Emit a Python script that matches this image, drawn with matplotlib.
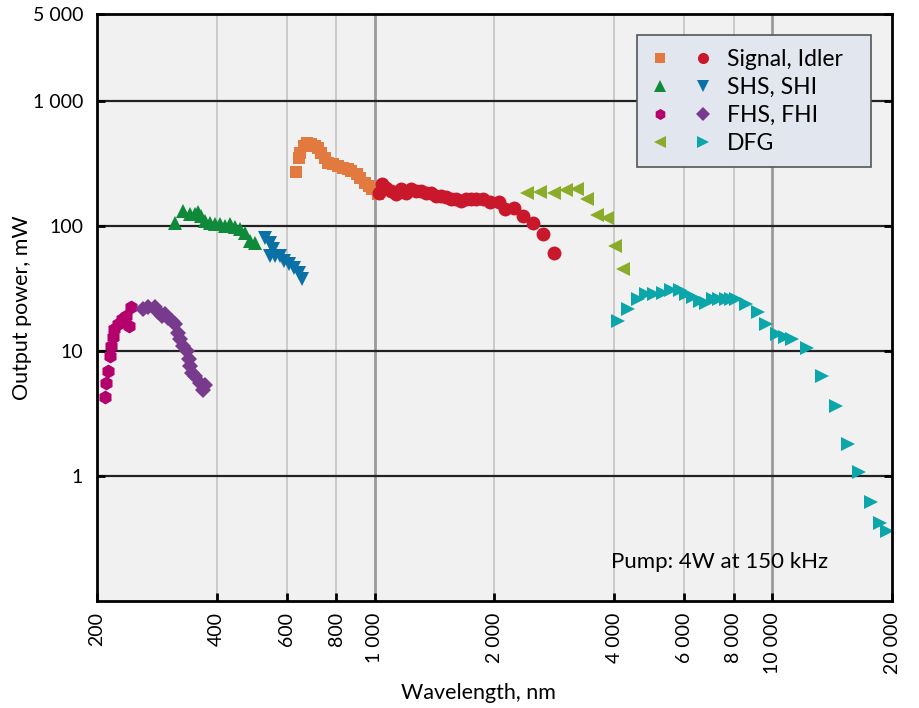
import matplotlib.pyplot as plt
from matplotlib.legend_handler import HandlerTuple
from matplotlib.ticker import FixedLocator, NullLocator, NullFormatter

plt.rcParams['font.family'] = ['Lato', 'DejaVu Sans']

# wavelength (nm), power (mW)
fhs_x = [209, 211, 213, 216, 217.5, 219.6, 221, 226, 230.6, 237, 241, 244]
fhs_y = [4.26, 5.6, 7.0, 9.2, 11, 12.9, 15, 16.4, 18, 19.2, 15.9, 22.4]

fhi_x = [261.6, 269, 280, 285, 291, 296.5, 302, 308, 314, 320, 323, 330,
         336.5, 340, 343.5, 346.7, 353, 363, 369, 373]
fhi_y = [21.7, 22.4, 22.4, 20.4, 19.2, 19.8, 18.6, 17.5, 16.4, 14.1, 12.6, 11,
         10.1, 8.6, 7.6, 6.7, 6.3, 5.6, 4.9, 5.4]

shs_x = [314, 329.5, 342.6, 353, 359.5, 366, 373, 385, 396.5, 408, 420, 432,
         445, 458, 471, 485, 499]
shs_y = [107, 133, 125, 125, 129, 121, 111, 107, 104, 104, 101, 104,
         98, 95, 89, 76, 74]

shi_x = [529, 544, 553, 544, 560, 576, 592, 609, 626, 645, 657]
shi_y = [81, 74, 65.6, 57.9, 57.9, 57.9, 53, 50, 46.4, 42.5, 37.6]

signal_x = [633, 646, 650, 662, 674, 692, 708, 720, 734, 748, 762, 784, 807,
            830, 855, 872, 901, 919, 946, 964, 982, 1017]
signal_y = [272, 354, 389, 439, 467, 453, 439, 426, 389, 354, 323, 313, 304,
            295, 286, 277, 260, 245, 224, 210, 198, 180]

idler_x = [1026, 1040, 1066, 1096, 1128, 1162, 1196, 1232, 1268, 1306, 1344,
           1384, 1425, 1467, 1510, 1555, 1601, 1648, 1697, 1747, 1798, 1870,
           1954, 2055, 2129, 2238, 2353, 2494, 2650, 2830]
idler_y = [186, 217, 204, 191, 180, 198, 186, 198, 191, 191, 186,
           186, 175, 175, 170, 165, 165, 160, 165, 165, 165, 165,
           155, 155, 137, 141, 121, 107, 86.6, 60.8]

dfg1_x = [2410, 2602, 2816, 3018, 3226, 3415, 3618, 3831, 4010, 4211]
dfg1_y = [186, 188, 184, 195, 198, 165, 122.5, 115.5, 69.5, 45.7]

dfg2_x = [4096, 4334, 4590, 4810, 5050, 5300, 5565, 5840, 6070, 6310, 6560,
          6810, 7085, 7360, 7650, 7870, 8100, 8590, 9200, 9660, 10250, 10760,
          11200, 12200, 13330, 14470, 15500, 16520, 17660, 18700, 19400]
dfg2_y = [17.5, 21.7, 26.4, 28.6, 28.6, 29.4, 31, 31, 28.6, 26.9, 25.3,
          24.5, 26, 26.4, 26.4, 26.4, 26, 23.8, 20.4, 16.4, 13.7, 12.9,
          12.6, 10.7, 6.35, 3.66, 1.80, 1.08, 0.616, 0.425, 0.366]

x_ticks = [200, 400, 600, 800, 1000, 2000, 4000, 6000, 8000, 10000, 20000]
x_labels = ['200', '400', '600', '800', '1 000', '2 000', '4 000', '6 000',
            '8 000', '10 000', '20 000']
y_ticks = [1, 10, 100, 1000, 5000]
y_labels = ['1', '10', '100', '1 000', '5 000']

fig = plt.figure(figsize=(9.2, 7.08), dpi=100)
ax = fig.add_axes([0.1054, 0.1511, 0.8642, 0.8291])
ax.set_facecolor('#f1f1f1')
ax.set_xscale('log')
ax.set_yscale('log')
ax.set_xlim(200, 20000)
ax.set_ylim(0.1, 5000)

# grid lines
for v in [400, 600, 800, 2000, 4000, 6000, 8000]:
    ax.axvline(v, color='#c4c4c4', lw=1.2, zorder=1)
for v in [1000, 10000]:
    ax.axvline(v, color='#9a9a9a', lw=2, zorder=1)
for v in [1, 10, 100, 1000]:
    ax.axhline(v, color='#222222', lw=1.6, zorder=1)

h_sig, = ax.plot(signal_x, signal_y, 's', color='#e27a3f', ms=8.5, mew=0, zorder=3)
h_idl, = ax.plot(idler_x, idler_y, 'o', color='#c9172b', ms=10, mew=0, zorder=3)
h_shs, = ax.plot(shs_x, shs_y, '^', color='#0f8a3b', ms=10, mew=0, zorder=3)
h_shi, = ax.plot(shi_x, shi_y, 'v', color='#0b70a6', ms=10, mew=0, zorder=3)
h_fhs, = ax.plot(fhs_x, fhs_y, 'h', color='#b4006c', ms=10, mew=0, zorder=3)
h_fhi, = ax.plot(fhi_x, fhi_y, 'D', color='#783a8d', ms=8.5, mew=0, zorder=3)
h_d1, = ax.plot(dfg1_x, dfg1_y, '<', color='#8aac2a', ms=10, mew=0, zorder=3)
h_d2, = ax.plot(dfg2_x, dfg2_y, '>', color='#0ba6aa', ms=10, mew=0, zorder=3)

ax.xaxis.set_major_locator(FixedLocator(x_ticks))
ax.set_xticklabels(x_labels, rotation=90, fontsize=14)
ax.xaxis.set_minor_locator(NullLocator())
ax.xaxis.set_minor_formatter(NullFormatter())
ax.yaxis.set_major_locator(FixedLocator(y_ticks))
ax.set_yticklabels(y_labels, fontsize=14)
ax.yaxis.set_minor_locator(NullLocator())
ax.tick_params(axis='both', which='major', direction='in', length=6, width=2,
               right=True, color='black', pad=8)
ax.tick_params(axis='y', pad=10)

for s in ax.spines.values():
    s.set_linewidth(2)
    s.set_color('black')
    s.set_zorder(5)

ax.set_xlabel('Wavelength, nm', fontsize=15.5)
ax.set_ylabel('Output power, mW', fontsize=15.5)
ax.xaxis.set_label_coords(0.48, -0.140)
ax.yaxis.set_label_coords(-0.082, 0.5)

ax.text(3930, 0.205, 'Pump: 4W at 150 kHz', fontsize=16, ha='left', va='center')

leg = ax.legend([(h_sig, h_idl), (h_shs, h_shi), (h_fhs, h_fhi), (h_d1, h_d2)],
                ['Signal, Idler', 'SHS, SHI', 'FHS, FHI', 'DFG'],
                handler_map={tuple: HandlerTuple(ndivide=None, pad=1.0)},
                loc='upper left', bbox_to_anchor=(0.679, 0.739, 0.295, 0.225),
                mode='expand', borderaxespad=0,
                fontsize=16.5, handlelength=2.7, handletextpad=0.65, labelspacing=0.3,
                borderpad=0.6, markerscale=0.8, numpoints=1,
                fancybox=False, framealpha=1, facecolor='#e2e6ee', edgecolor='#555555')
leg.get_frame().set_linewidth(1.2)
leg.set_zorder(6)

fig.savefig('out.png', dpi=100)
